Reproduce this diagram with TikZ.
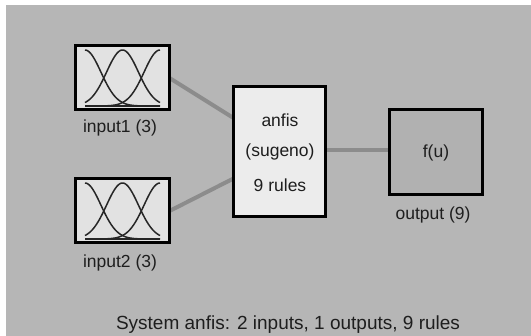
\documentclass[tikz,border=0pt]{standalone}
\usepackage{fontspec}
\setmainfont{Liberation Sans}
\definecolor{bg}{HTML}{B6B6B6}
\definecolor{infill}{HTML}{E2E2E2}
\definecolor{anfill}{HTML}{ECECEC}
\definecolor{outfill}{HTML}{B1B1B1}
\definecolor{conn}{HTML}{8C8C8C}
\definecolor{ink}{HTML}{1E1E1E}
\begin{document}
\begin{tikzpicture}[x=1pt,y=-1pt,
  box/.style={draw=black,line width=3pt,inner sep=0pt,outer sep=0pt},
  inbox/.style={box,fill=infill,minimum width=94pt,minimum height=64pt},
  anbox/.style={box,fill=anfill,minimum width=92pt,minimum height=130pt},
  outbox/.style={box,fill=outfill,minimum width=93pt,minimum height=85pt},
  lbl/.style={font=\fontsize{17.5}{19}\selectfont,text=ink,inner sep=0pt},
  wire/.style={draw=conn,line width=4pt},
  mf/.style={draw=black!85,line width=1.5pt}]
\useasboundingbox (0,0) rectangle (531,336);
\fill[bg] (6,5) rectangle (531,336);
% nodes (placed first to get anchors)
\node[inbox] (in1) at (122.5,78) {};
\node[inbox] (in2) at (122.5,211) {};
\node[anbox] (anfis) at (279.5,151.5) {};
\node[outbox] (out) at (436,152) {};
% connectors
\draw[wire] (in1.east) -- ([yshift=33.5pt]anfis.west);
\draw[wire] (in2.east) -- ([yshift=-27pt]anfis.west);
\draw[wire] ([yshift=1.5pt]anfis.east) -- ([yshift=2pt]out.west);
% redraw boxes on top of connector ends
\node[inbox] at (in1.center) {};
\node[inbox] at (in2.center) {};
\node[anbox] at (anfis.center) {};
\node[outbox] at (out.center) {};
% membership functions
\foreach \n in {in1,in2}{
  \begin{scope}[shift={(\n.center)}]
    \draw[mf] plot[domain=-37.5:37.5,samples=60,smooth] (\x,{28-56*exp(-((\x+37.5)^2)/505.6)});
    \draw[mf] plot[domain=-37.5:37.5,samples=60,smooth] (\x,{28-56*exp(-((\x)^2)/505.6)});
    \draw[mf] plot[domain=-37.5:37.5,samples=60,smooth] (\x,{28-56*exp(-((\x-37.5)^2)/505.6)});
    \draw[black!85,line width=2.2pt] (-37.5,28) -- (37.5,28);
  \end{scope}
}
% texts
\node[lbl] (t1) at (120,128) {input1 (3)};
\node[lbl] (t2) at (120,263) {input2 (3)};
\node[lbl] (a1) at (280,120) {anfis};
\node[lbl] (a2) at (280,152) {(sugeno)};
\node[lbl] (a3) at (280,185) {9 rules};
\node[lbl] (fu) at (436,153) {f(u)};
\node[lbl] (to) at (433,215) {output (9)};
\node[font=\fontsize{19}{21}\selectfont,text=ink,inner sep=0pt] (sys) at (288,325) {System anfis: 2 inputs, 1 outputs, 9 rules};
\end{tikzpicture}
\end{document}
